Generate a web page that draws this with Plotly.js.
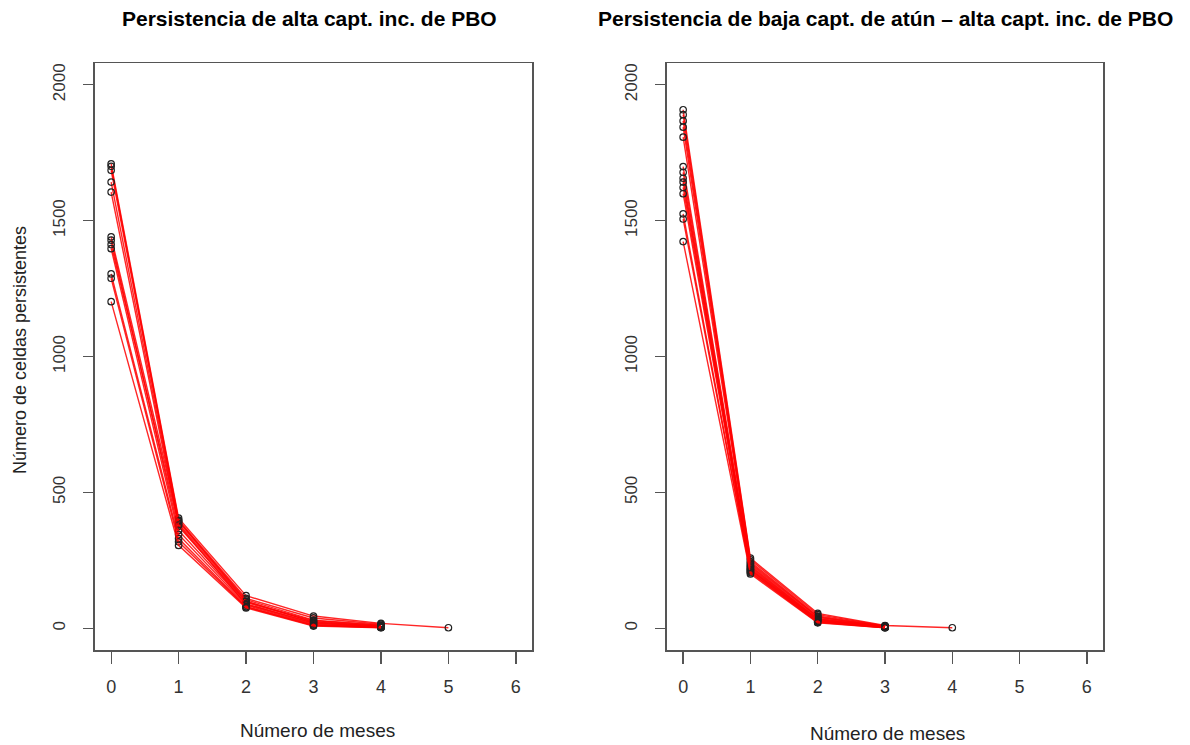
<!DOCTYPE html>
<html>
<head>
<meta charset="utf-8">
<script src="https://cdn.plot.ly/plotly-3.0.1.min.js"></script>
<style>
  html, body { margin: 0; padding: 0; background: #fff; }
  #chart { width: 1190px; height: 745px; }
</style>
</head>
<body>
<div id="chart"></div>
<script>
// Months of persistence (x axis)
const months = [0, 1, 2, 3, 4, 5, 6];
const monthTicks = ['0', '1', '2', '3', '4', '5', '6'];
const countTicks = [0, 500, 1000, 1500, 2000];

// Left panel: high incidental PBO catch, persistent cells per month (one value per series)
const altaM0 = [1709, 1700, 1685, 1642, 1605, 1440, 1428, 1412, 1397, 1304, 1288, 1202];
const altaM1 = [405, 398, 392, 385, 375, 395, 360, 380, 345, 330, 318, 305];
const altaM2 = [120, 110, 105, 98, 95, 100, 90, 88, 85, 80, 78, 75];
const altaM3 = [45, 38, 30, 28, 25, 22, 20, 18, 15, 12, 10, 8];
const altaM4 = [18, 15, 12, 10, 8, 8, 6, 5, 4, 3, 3, 2];
const altaM5 = [2, null, null, null, null, null, null, null, null, null, null, null];

// Right panel: low tuna catch with high incidental PBO catch
const bajaM0 = [1908, 1890, 1867, 1844, 1807, 1699, 1678, 1656, 1642, 1622, 1599, 1525, 1506, 1423];
const bajaM1 = [258, 252, 245, 240, 235, 230, 226, 222, 218, 215, 212, 208, 205, 200];
const bajaM2 = [55, 50, 45, 42, 40, 36, 34, 32, 30, 28, 26, 24, 22, 20];
const bajaM3 = [10, 9, 8, 7, 6, 6, 5, 5, 4, 4, 3, 3, 2, 2];
const bajaM4 = [2, null, null, null, null, null, null, null, null, null, null, null, null, null];

function buildSeries(cols, xa, ya) {
  const traces = [];
  const n = cols[0].length;
  for (let i = 0; i < n; i++) {
    const xs = [], ys = [];
    cols.forEach((col, m) => {
      if (col[i] !== null && col[i] !== undefined) { xs.push(months[m]); ys.push(col[i]); }
    });
    traces.push({
      x: xs, y: ys, xaxis: xa, yaxis: ya,
      type: 'scatter', mode: 'lines+markers',
      line: { color: 'rgba(255,0,0,0.85)', width: 1.4 },
      marker: { symbol: 'circle-open', size: 6.5, color: '#222', line: { width: 1.2, color: '#222' } },
      hoverinfo: 'x+y', showlegend: false
    });
  }
  return traces;
}

const data = [
  ...buildSeries([altaM0, altaM1, altaM2, altaM3, altaM4, altaM5], 'x', 'y'),
  ...buildSeries([bajaM0, bajaM1, bajaM2, bajaM3, bajaM4], 'x2', 'y2')
];

const font = 'Arial, "Liberation Sans", sans-serif';

const xAxisBase = {
  range: [-0.24, 6.24],
  tickmode: 'array', tickvals: months, ticktext: monthTicks,
  ticks: 'outside', ticklen: 12, tickwidth: 1.3, tickcolor: '#555',
  ticklabelstandoff: 8,
  showline: true, mirror: true, linecolor: '#555', linewidth: 1.5,
  showgrid: false, zeroline: false,
  tickfont: { family: font, size: 18, color: '#333' }
};
const yAxisBase = {
  range: [-80, 2080],
  tickmode: 'array', tickvals: countTicks, ticktext: countTicks.map(String),
  tickangle: -90,
  ticks: 'outside', ticklen: 10, tickwidth: 1.3, tickcolor: '#555',
  ticklabelstandoff: 12,
  showline: true, mirror: true, linecolor: '#555', linewidth: 1.5,
  showgrid: false, zeroline: false,
  tickfont: { family: font, size: 17, color: '#333' }
};

const titleFont = { family: font, size: 21, color: '#000' };
const labelFont = { family: font, size: 19, color: '#222' };

const layout = {
  width: 1190, height: 745,
  margin: { l: 0, r: 0, t: 0, b: 0 },
  paper_bgcolor: '#fff', plot_bgcolor: '#fff',
  showlegend: false,
  xaxis: Object.assign({}, xAxisBase, { domain: [0.0798, 0.4471], anchor: 'y' }),
  yaxis: Object.assign({}, yAxisBase, { domain: [0.1275, 0.9154], anchor: 'x' }),
  xaxis2: Object.assign({}, xAxisBase, { domain: [0.5605, 0.9269], anchor: 'y2' }),
  yaxis2: Object.assign({}, yAxisBase, { domain: [0.1275, 0.9154], anchor: 'x2' }),
  annotations: [
    { text: '<b>Persistencia de alta capt. inc. de PBO</b>', xref: 'paper', yref: 'paper',
      x: 0.2605, y: 1 - 18 / 745, xanchor: 'center', yanchor: 'middle', showarrow: false,
      font: titleFont },
    { text: '<b>Persistencia de baja capt. de atún – alta capt. inc. de PBO</b>', xref: 'paper', yref: 'paper',
      x: 0.7437, y: 1 - 18 / 745, xanchor: 'center', yanchor: 'middle', showarrow: false,
      font: titleFont },
    { text: 'Número de meses', xref: 'paper', yref: 'paper',
      x: 0.2665, y: 1 - 730 / 745, xanchor: 'center', yanchor: 'middle', showarrow: false,
      font: labelFont },
    { text: 'Número de meses', xref: 'paper', yref: 'paper',
      x: 0.7462, y: 1 - 733 / 745, xanchor: 'center', yanchor: 'middle', showarrow: false,
      font: labelFont },
    { text: 'Número de celdas persistentes', xref: 'paper', yref: 'paper', textangle: -90,
      x: 20 / 1190, y: 1 - 350 / 745, xanchor: 'center', yanchor: 'middle', showarrow: false,
      font: { family: font, size: 18, color: '#222' } }
  ]
};

Plotly.newPlot('chart', data, layout, { staticPlot: true, displayModeBar: false });
</script>
</body>
</html>
